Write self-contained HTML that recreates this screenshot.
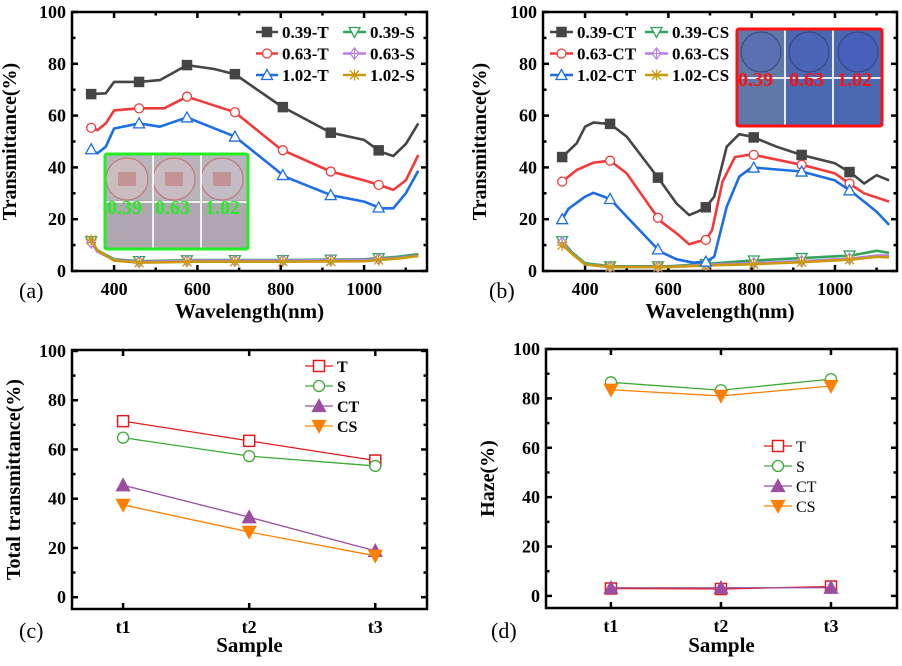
<!DOCTYPE html>
<html><head><meta charset="utf-8">
<style>
html,body{margin:0;padding:0;background:#fff;}
svg, svg text{font-family:"Liberation Serif","DejaVu Serif","Times New Roman",serif;}
</style></head>
<body>
<svg id="fig" width="902" height="661" viewBox="0 0 902 661" xmlns="http://www.w3.org/2000/svg" font-family="Liberation Serif, DejaVu Serif, serif">
<g id="insetA">
  <rect x="105" y="154" width="143" height="95" fill="#b9b3bb"/>
  <rect x="105" y="200" width="143" height="49" fill="#aea7af"/>
  <circle cx="127" cy="179" r="21" fill="#cbbcc0" stroke="#c07070" stroke-width="1"/>
  <circle cx="174" cy="179" r="21" fill="#c8bcc2" stroke="#c07070" stroke-width="1"/>
  <circle cx="222" cy="179" r="21" fill="#c4bcc4" stroke="#c07070" stroke-width="1"/>
  <rect x="118" y="172" width="18" height="14" fill="#c07878" opacity="0.6"/>
  <rect x="165" y="172" width="18" height="14" fill="#c07878" opacity="0.6"/>
  <rect x="213" y="172" width="18" height="14" fill="#c07878" opacity="0.6"/>
  <line x1="105" y1="202" x2="248" y2="202" stroke="#f0f0f0" stroke-width="2"/>
  <line x1="153" y1="154" x2="153" y2="249" stroke="#f0f0f0" stroke-width="2"/>
  <line x1="201" y1="154" x2="201" y2="249" stroke="#f0f0f0" stroke-width="2"/>
  <text x="107" y="214" font-size="20" font-weight="bold" fill="#22ee22">0.39</text>
  <text x="155" y="214" font-size="20" font-weight="bold" fill="#22ee22">0.63</text>
  <text x="205" y="214" font-size="20" font-weight="bold" fill="#22ee22">1.02</text>
  <rect x="105" y="154" width="143" height="95" fill="none" stroke="#22ee22" stroke-width="3" rx="2"/>
</g>
<g id="insetB">
  <rect x="737" y="29" width="145" height="97" fill="#4a68b0"/>
  <rect x="737" y="29" width="48" height="97" fill="#6078a8"/>
  <circle cx="761" cy="52" r="20" fill="#5a70b0" stroke="#35447a" stroke-width="1"/>
  <circle cx="809" cy="52" r="20" fill="#4a64b8" stroke="#35447a" stroke-width="1"/>
  <circle cx="858" cy="52" r="20" fill="#4660bc" stroke="#35447a" stroke-width="1"/>
  <line x1="737" y1="78" x2="882" y2="78" stroke="#e8e8f0" stroke-width="2"/>
  <line x1="785" y1="29" x2="785" y2="126" stroke="#e8e8f0" stroke-width="2"/>
  <line x1="833" y1="29" x2="833" y2="126" stroke="#e8e8f0" stroke-width="2"/>
  <text x="738" y="86" font-size="20" font-weight="bold" fill="#ff1010">0.39</text>
  <text x="789" y="86" font-size="20" font-weight="bold" fill="#ff1010">0.63</text>
  <text x="837" y="86" font-size="20" font-weight="bold" fill="#ff1010">1.02</text>
  <rect x="737" y="29" width="145" height="97" fill="none" stroke="#ff1010" stroke-width="3" rx="2"/>
</g>
</svg>
<script>
// ---------- Panel (a) data ----------
const wlA_T39 = [345,380,400,460,510,575,640,690,800,920,1000,1040,1070,1100,1130];
const valA_T39 = [68.3,68.6,73,73,73.7,79.5,78,76,63.7,53.4,50.6,46,44.4,49,57];
const wlA_T63 = [345,360,380,400,460,520,575,690,800,920,1000,1040,1070,1100,1130];
const valA_T63 = [55.3,54.4,57,62,62.8,62.8,67.3,61.3,47,38.4,35,33,31.3,35,44.8];
const wlA_T102 = [345,360,380,400,460,510,575,690,780,810,920,1000,1040,1070,1100,1130];
const valA_T102 = [47,45.4,48,55,57,55.7,59.3,51.9,40.3,36.4,29.3,26.8,24.2,24.2,30,38.7];
const wlA_S = [345,360,400,460,600,800,1000,1080,1130];
const valA_S39 = [11.5,8,4.5,3.8,4.2,4.2,4.5,5.5,6.5];
const valA_S63 = [11,7.5,4.2,3.5,4,4,4.3,5,6];
const valA_S102 = [12,8,4,3.2,3.6,3.6,3.8,4.8,5.8];
// ---------- Panel (b) data ----------
const wlB_T39 = [345,380,400,420,460,500,580,620,650,670,690,710,740,770,800,860,920,1000,1040,1070,1100,1130];
const valB_T39 = [44,49.3,55.7,57.3,56.8,51.9,35,26,21.6,22.9,24.6,28.7,48,52.8,51.9,48,44.8,41.6,37.7,33.8,37,35];
const wlB_T63 = [345,380,420,460,500,580,620,650,670,690,705,730,760,800,920,1000,1040,1070,1130];
const valB_T63 = [34.5,39,41.8,42.6,37.7,19.4,14.5,10.3,11.3,12,15.8,34.5,44,45,41,37.7,33.2,30,26.8];
const wlB_T102 = [345,360,400,420,460,500,580,620,660,690,710,740,770,800,920,1000,1040,1070,1100,1130];
const valB_T102 = [20,24,28.7,30.2,27.8,21,7.5,4.5,3.2,3.6,5.5,24.8,36.4,40,38.4,35,30.6,26.8,22.9,17.8];
const wlB_S = [345,370,400,460,600,700,800,920,1040,1100,1130];
const valB_S39 = [11.5,7,3,1.8,1.8,2.8,4,5,6,7.8,7];
const valB_S63 = [11,6.5,2.6,1.6,1.6,2.5,3,3.8,4.8,6,6];
const valB_S102 = [10,6.5,2.5,1.5,1.5,2.2,2.6,3.4,4.4,5.5,5.3];
// ---------- Panel (c) / (d) data ----------
const samples = ["t1","t2","t3"];
const totT = [71.5,63.5,55.5];
const totS = [64.8,57.3,53.3];
const totCT = [45.5,32.5,18.8];
const totCS = [37.5,26.5,16.8];
const hazeT = [3.0,2.8,3.8];
const hazeS = [86.5,83.3,87.8];
const hazeCT = [3.3,3.3,3.3];
const hazeCS = [83.5,81.0,85.0];
const yTicks = ["0","20","40","60","80","100"];
const xTicksWl = ["400","600","800","1000"];
const markerWl = [345,460,575,690,805,920,1035];

const NS="http://www.w3.org/2000/svg";
const svg=document.getElementById('fig');
const FF="Liberation Serif, DejaVu Serif, serif";
function el(tag,attrs,parent){const e=document.createElementNS(NS,tag);for(const k in attrs)e.setAttribute(k,attrs[k]);if(tag==='text')e.setAttribute('font-family',FF);(parent||svg).appendChild(e);return e;}
function interp(xs,ys,x){if(x<=xs[0])return ys[0];for(let i=1;i<xs.length;i++){if(x<=xs[i]){const t=(x-xs[i-1])/(xs[i]-xs[i-1]);return ys[i-1]+t*(ys[i]-ys[i-1]);}}return ys[ys.length-1];}

function marker(g,type,cx,cy,color,s){
  s=s||4.5;
  let m;
  if(type==='sqf'||type==='sq'){m=el('rect',{x:cx-s,y:cy-s,width:2*s,height:2*s,fill:type==='sqf'?color:'#fff',stroke:color,'stroke-width':1.5},g);}
  else if(type==='circ'){m=el('circle',{cx:cx,cy:cy,r:s,fill:'#fff',stroke:color,'stroke-width':1.3},g);}
  else if(type==='tri'||type==='trif'){m=el('polygon',{points:`${cx},${cy-s-1} ${cx-s-1},${cy+s} ${cx+s+1},${cy+s}`,fill:type==='trif'?color:'#fff',stroke:color,'stroke-width':1.3},g);}
  else if(type==='dtri'||type==='dtrif'){m=el('polygon',{points:`${cx},${cy+s+1} ${cx-s-1},${cy-s} ${cx+s+1},${cy-s}`,fill:type==='dtrif'?color:'#fff',stroke:color,'stroke-width':1.3},g);}
  else if(type==='dia'){m=el('g',{},g);el('polygon',{points:`${cx},${cy-s-1} ${cx-s},${cy} ${cx},${cy+s+1} ${cx+s},${cy}`,fill:'#fff',stroke:color,'stroke-width':1.2},m);el('path',{d:`M${cx-s} ${cy}H${cx+s}M${cx} ${cy-s-1}V${cy+s+1}`,stroke:color,'stroke-width':1},m);}
  else if(type==='star'){m=el('path',{d:`M${cx-s} ${cy-s}L${cx+s} ${cy+s}M${cx-s} ${cy+s}L${cx+s} ${cy-s}M${cx} ${cy-s-1}V${cy+s+1}M${cx-s-1} ${cy}H${cx+s+1}`,stroke:color,'stroke-width':1.3,fill:'none'},g);}
  
  
  return m;
}

function makeAxes(P){
  const g=el('g',{});
  
  
  P.X=v=>P.x0+(v-P.xmin)/(P.xmax-P.xmin)*(P.x1-P.x0);
  P.Y=v=>P.y1-(v-P.ymin)/(P.ymax-P.ymin)*(P.y1-P.y0);
  for(let v=0;v<=100;v+=10){
    const y=P.Y(v), L=(v%20===0)?6:3.5;
    el('line',{x1:P.x0,y1:y,x2:P.x0+L,y2:y,stroke:'#000','stroke-width':2.5},g);
    el('line',{x1:P.x1,y1:y,x2:P.x1-L,y2:y,stroke:'#000','stroke-width':2.5},g);
  }
  yTicks.forEach(t=>{const tx=el('text',{x:P.x0-6,y:P.Y(+t)+6,'text-anchor':'end','font-size':18,'font-weight':'bold'},g);tx.textContent=t;
    });
  P.xticks.forEach((t,i)=>{
    const x=P.X(P.xtickVals[i]);
    el('line',{x1:x,y1:P.y1,x2:x,y2:P.y1-6,stroke:'#000','stroke-width':2.5},g);
    el('line',{x1:x,y1:P.y0,x2:x,y2:P.y0+6,stroke:'#000','stroke-width':2.5},g);
    const tx=el('text',{x:x,y:P.y1+24,'text-anchor':'middle','font-size':18,'font-weight':'bold'},g);tx.textContent=t;
    
  });
  (P.minorX||[]).forEach(v=>{const x=P.X(v);
    el('line',{x1:x,y1:P.y1,x2:x,y2:P.y1-3.5,stroke:'#000','stroke-width':2.5},g);
    el('line',{x1:x,y1:P.y0,x2:x,y2:P.y0+3.5,stroke:'#000','stroke-width':2.5},g);});
  el('rect',{x:P.x0,y:P.y0,width:P.x1-P.x0,height:P.y1-P.y0,fill:'none',stroke:'#000','stroke-width':2.5},g);
  const yt=el('text',{x:0,y:0,'text-anchor':'middle','font-size':20,'font-weight':'bold',transform:`translate(${P.ytx},${(P.y0+P.y1)/2}) rotate(-90)`},g);yt.textContent=P.ytitle;
  
  const xt=el('text',{x:(P.x0+P.x1)/2,y:P.xty,'text-anchor':'middle','font-size':21,'font-weight':'bold'},g);xt.textContent=P.xtitle;
  
  const pl=el('text',{x:P.plx,y:P.ply,'font-size':22},g);pl.textContent=P.label;
  
  return g;
}

function spectrum(P,xs,ys,color,mtype,name){
  const g=el('g',{});
  
  
  const d=xs.map((x,i)=>(i?'L':'M')+P.X(x).toFixed(1)+' '+P.Y(ys[i]).toFixed(1)).join('');
  el('path',{d:d,fill:'none',stroke:color,'stroke-width':2.6,'stroke-linejoin':'round'},g);
  markerWl.forEach(w=>marker(g,mtype,P.X(w),P.Y(interp(xs,ys,w)),color,4.5));
}
function series(P,vals,color,mtype,name){
  const g=el('g',{});
  
  
  const d=vals.map((v,i)=>(i?'L':'M')+P.X(i)+' '+P.Y(v)).join('');
  el('path',{d:d,fill:'none',stroke:color,'stroke-width':1.3},g);
  vals.forEach((v,i)=>marker(g,mtype,P.X(i),P.Y(v),color,5.5));
}
function legend(items,x,y,dy,lineW,fs,bold,ms){
  items.forEach((it,i)=>{
    const g=el('g',{});
    
    
    const yy=y+i*dy;
    el('line',{x1:x,y1:yy,x2:x+lineW,y2:yy,stroke:it.c,'stroke-width':it.w||2.6},g);
    marker(g,it.m,x+lineW/2,yy,it.c,ms);
    const t=el('text',{x:x+lineW+4,y:yy+fs*0.36,'font-size':fs,'font-weight':bold?'bold':'normal'},g);t.textContent=it.t;
  });
}

const C={k:'#454545',r:'#f23a3a',b:'#1c6ee6',g:'#2fa45a',p:'#b57ce6',o:'#c99a10'};
const PA={name:'panel-a',x0:72,x1:427,y0:12,y1:271,xmin:299,xmax:1151,ymin:0,ymax:100,xticks:xTicksWl,xtickVals:xTicksWl.map(Number),minorX:[500,700,900,1100],
  ytitle:'Transmittance(%)',ytx:16,xtitle:'Wavelength(nm)',xty:318,label:'(a)',plx:19,ply:298};
makeAxes(PA);
spectrum(PA,wlA_S,valA_S39,C.g,'dtri','series-0.39-S');
spectrum(PA,wlA_S,valA_S63,C.p,'dia','series-0.63-S');
spectrum(PA,wlA_S,valA_S102,C.o,'star','series-1.02-S');
spectrum(PA,wlA_T39,valA_T39,C.k,'sqf','series-0.39-T');
spectrum(PA,wlA_T63,valA_T63,C.r,'circ','series-0.63-T');
spectrum(PA,wlA_T102,valA_T102,C.b,'tri','series-1.02-T');
legend([{t:'0.39-T',c:C.k,m:'sqf'},{t:'0.63-T',c:C.r,m:'circ'},{t:'1.02-T',c:C.b,m:'tri'}],256,32,21.5,22,17,true,4.5);
legend([{t:'0.39-S',c:C.g,m:'dtri'},{t:'0.63-S',c:C.p,m:'dia'},{t:'1.02-S',c:C.o,m:'star'}],343,32,21.5,23,17,true,4.5);
const PB={name:'panel-b',x0:543,x1:897,y0:12,y1:271,xmin:299,xmax:1149,ymin:0,ymax:100,xticks:xTicksWl,xtickVals:xTicksWl.map(Number),minorX:[500,700,900,1100],
  ytitle:'Transmittance(%)',ytx:486,xtitle:'Wavelength(nm)',xty:318,label:'(b)',plx:489,ply:298};
makeAxes(PB);
spectrum(PB,wlB_S,valB_S39,C.g,'dtri','series-0.39-CS');
spectrum(PB,wlB_S,valB_S63,C.p,'dia','series-0.63-CS');
spectrum(PB,wlB_S,valB_S102,C.o,'star','series-1.02-CS');
spectrum(PB,wlB_T39,valB_T39,C.k,'sqf','series-0.39-CT');
spectrum(PB,wlB_T63,valB_T63,C.r,'circ','series-0.63-CT');
spectrum(PB,wlB_T102,valB_T102,C.b,'tri','series-1.02-CT');
legend([{t:'0.39-CT',c:C.k,m:'sqf'},{t:'0.63-CT',c:C.r,m:'circ'},{t:'1.02-CT',c:C.b,m:'tri'}],550,32,21.5,23,17,true,4.5);
legend([{t:'0.39-CS',c:C.g,m:'dtri'},{t:'0.63-CS',c:C.p,m:'dia'},{t:'1.02-CS',c:C.o,m:'star'}],645,32,21.5,23,17,true,4.5);
svg.appendChild(document.getElementById('insetA'));
svg.appendChild(document.getElementById('insetB'));
const C2={r:'#e3191c',g:'#3aaa35',p:'#9b4ea0',o:'#ff8000'};
const PC={name:'panel-c',x0:72,x1:427,y0:350,y1:609,xmin:-0.405,xmax:2.41,ymin:-4.8,ymax:100.4,xticks:samples,xtickVals:[0,1,2],
  ytitle:'Total transmittance(%)',ytx:20,xtitle:'Sample',xty:652,label:'(c)',plx:19,ply:638};
makeAxes(PC);
series(PC,totT,C2.r,'sq','series-T');
series(PC,totS,C2.g,'circ','series-S');
series(PC,totCT,C2.p,'trif','series-CT');
series(PC,totCS,C2.o,'dtrif','series-CS');
legend([{t:'T',c:C2.r,m:'sq',w:1.3},{t:'S',c:C2.g,m:'circ',w:1.3},{t:'CT',c:C2.p,m:'trif',w:1.3},{t:'CS',c:C2.o,m:'dtrif',w:1.3}],305,366,20,28,16,true,5.5);
const PD={name:'panel-d',x0:546,x1:897,y0:349,y1:608,xmin:-0.59,xmax:2.6,ymin:-4.9,ymax:100,xticks:samples,xtickVals:[0,1,2],
  ytitle:'Haze(%)',ytx:494,xtitle:'Sample',xty:652,label:'(d)',plx:491,ply:638};
makeAxes(PD);
series(PD,hazeT,C2.r,'sq','series-T');
series(PD,hazeS,C2.g,'circ','series-S');
series(PD,hazeCS,C2.o,'dtrif','series-CS');
series(PD,hazeCT,C2.p,'trif','series-CT');
legend([{t:'T',c:C2.r,m:'sq',w:1.3},{t:'S',c:C2.g,m:'circ',w:1.3},{t:'CT',c:C2.p,m:'trif',w:1.3},{t:'CS',c:C2.o,m:'dtrif',w:1.3}],764,446,20,28,16,false,5.5);
</script>
</body></html>
